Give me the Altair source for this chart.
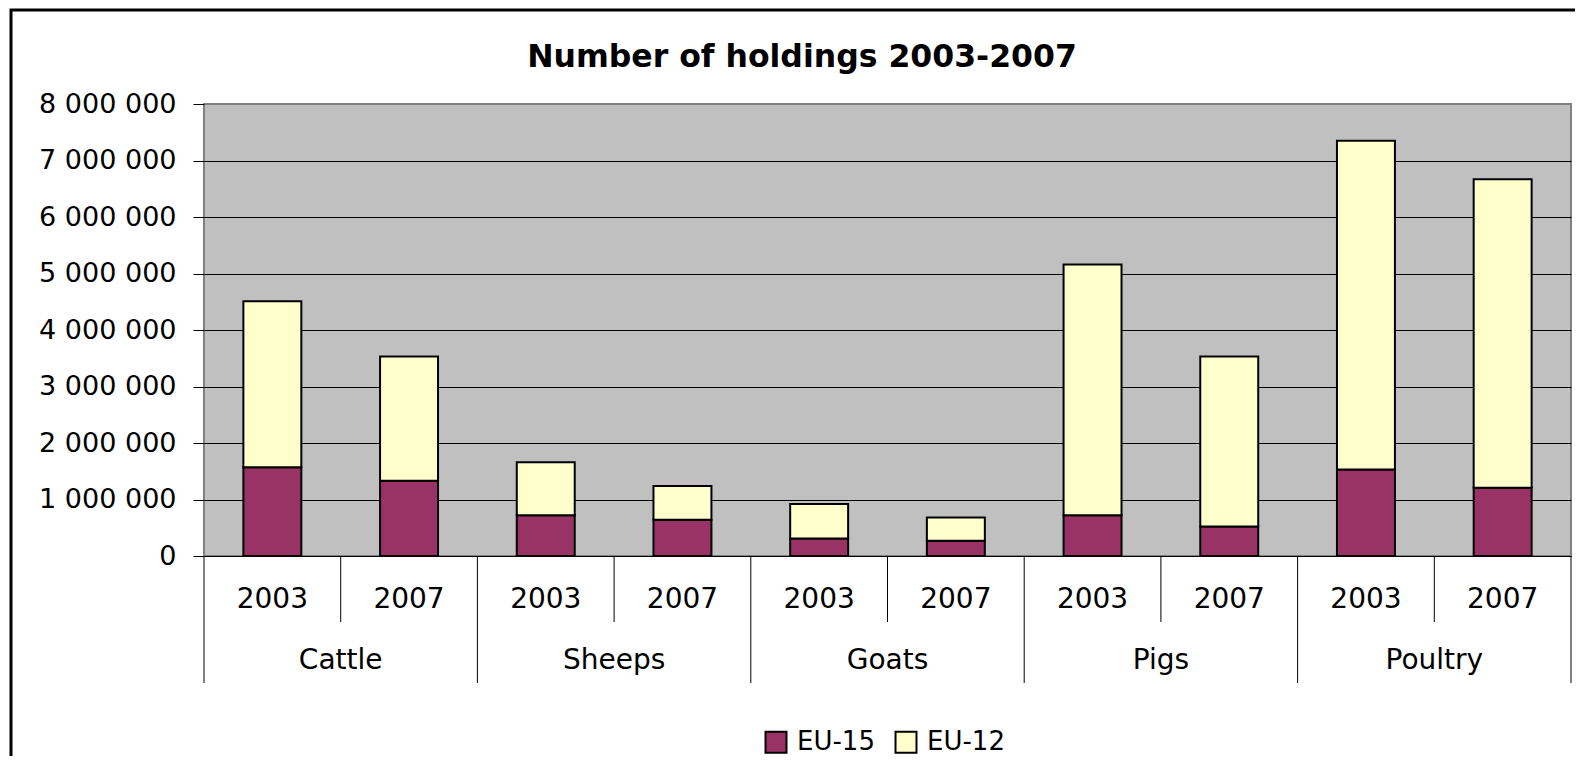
import altair as alt
import pandas as pd

# ---- data ----
categories = ["Cattle", "Sheeps", "Goats", "Pigs", "Poultry"]
years = ["2003", "2007"]
series = ["EU-15", "EU-12"]
series_colors = ["#993366", "#FFFFCC"]
eu15 = [1570000, 1330000, 720000, 640000, 310000, 270000, 720000, 520000, 1530000, 1210000]
eu12 = [2940000, 2200000, 940000, 600000, 610000, 410000, 4440000, 3010000, 5820000, 5460000]
y_ticks = [0, 1000000, 2000000, 3000000, 4000000, 5000000, 6000000, 7000000, 8000000]
title_text = ["Number of holdings 2003-2007"]

# ---- tables built from the arrays ----
keys, cats, yrs = [], [], []
for c in categories:
    for y in years:
        keys.append(f"{c} {y}")
        cats.append(c)
        yrs.append(y)

rows = []
for k, c, y, a, b in zip(keys, cats, yrs, eu15, eu12):
    rows.append(dict(key=k, category=c, year=y, series="EU-15", value=a, rank=0))
    rows.append(dict(key=k, category=c, year=y, series="EU-12", value=b, rank=1))
df = pd.DataFrame(rows)

sep_df = pd.DataFrame({"key": keys, "year": yrs})
cat_df = pd.DataFrame({"key": [f"{c} {years[0]}" for c in categories], "category": categories})
last_df = pd.DataFrame({"key": [keys[-1]]})
title_df = pd.DataFrame({"t": title_text})
frame_df = pd.DataFrame({"a": [0]})

W, H = 1367, 452
FONT = "DejaVu Sans"

xscale = alt.Scale(type="band", domain=keys, paddingInner=0, paddingOuter=0)
x_axis = alt.Axis(
    title=None, labelExpr="split(datum.value, ' ')[1]", labelAngle=0,
    labelFontSize=28, labelFont=FONT, labelColor="black",
    labelPadding=43, labelBaseline="middle", ticks=False, tickSize=0,
    domain=False, grid=False, labelOverlap=False)

bars = alt.Chart(df).mark_bar(
    width=alt.RelativeBandSize(0.424), stroke="black", strokeWidth=2
).encode(
    x=alt.X("key:N", scale=xscale, sort=keys, axis=x_axis),
    y=alt.Y("value:Q", stack="zero",
            scale=alt.Scale(domain=[0, 8000000], nice=False, zero=True),
            axis=alt.Axis(
                title=None, values=y_ticks,
                labelExpr="replace(format(datum.value, ','), /,/g, ' ')",
                labelFontSize=27, labelFont=FONT, labelColor="black",
                labelPadding=17, tickSize=11, tickColor="black", tickWidth=1,
                grid=True,
                gridColor=alt.condition("datum.value == 8000000", alt.value("#808080"), alt.value("black")),
                gridWidth=1, domain=False)),
    color=alt.Color("series:N", scale=alt.Scale(domain=series, range=series_colors),
                    legend=alt.Legend(
                        title=None, orient="none", legendX=559, legendY=625,
                        direction="horizontal", symbolType="square", symbolSize=440,
                        symbolStrokeColor="black", symbolStrokeWidth=2,
                        labelFontSize=26, labelFont=FONT, labelColor="black",
                        labelOffset=8, columnPadding=16, padding=0)),
    order=alt.Order("rank:Q"),
)

short_seps = alt.Chart(sep_df).transform_filter(
    alt.datum.year != years[0]
).mark_rule(color="black", strokeWidth=1).encode(
    x=alt.X("key:N", scale=xscale, sort=keys, bandPosition=0, axis=x_axis),
    y=alt.value(H), y2=alt.value(H + 66),
)

long_seps = alt.Chart(sep_df).transform_filter(
    alt.datum.year == years[0]
).mark_rule(color="black", strokeWidth=1).encode(
    x=alt.X("key:N", scale=xscale, sort=keys, bandPosition=0, axis=x_axis),
    y=alt.value(H), y2=alt.value(H + 127),
)

end_sep = alt.Chart(last_df).mark_rule(color="black", strokeWidth=1).encode(
    x=alt.X("key:N", scale=xscale, sort=keys, bandPosition=1, axis=x_axis),
    y=alt.value(H), y2=alt.value(H + 127),
)

cat_labels = alt.Chart(cat_df).mark_text(
    fontSize=28, font=FONT, color="black", baseline="middle", align="center"
).encode(
    x=alt.X("key:N", scale=xscale, sort=keys, bandPosition=1, axis=x_axis),
    y=alt.value(H + 105),
    text="category:N",
)

title = alt.Chart(title_df).mark_text(
    fontSize=31.5, font=FONT, fontWeight="bold", color="black",
    baseline="alphabetic", align="center"
).encode(
    x=alt.value(598), y=alt.value(-37), text="t:N",
)

frame = alt.Chart(frame_df).mark_rect(
    fillOpacity=0, stroke="black", strokeWidth=3
).encode(
    x=alt.value(-193), x2=alt.value(W + 300),
    y=alt.value(-94), y2=alt.value(H + 400),
)

chart = alt.layer(frame, bars, short_seps, long_seps, end_sep, cat_labels, title).properties(
    width=W, height=H,
    autosize=alt.AutoSizeParams(type="none"),
    padding={"left": 196, "top": 96, "right": 4, "bottom": 200},
    background="white",
).configure_view(
    fill="#C0C0C0", stroke="#808080", strokeWidth=2
)

chart.save("out.html", embed_options={"renderer": "svg", "actions": False})
